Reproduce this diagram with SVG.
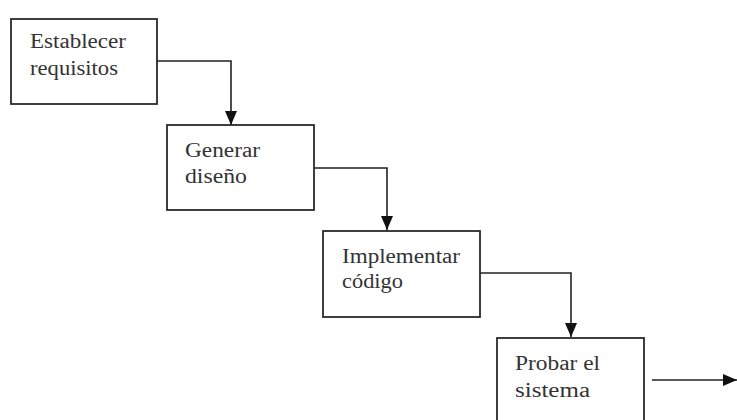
<svg xmlns="http://www.w3.org/2000/svg" width="737" height="420" viewBox="0 0 737 420">
  <style>
    .box { fill: #ffffff; stroke: #2a2a2a; stroke-width: 1.8; }
    .lbl { font-family: 'Liberation Serif', 'Times New Roman', Times, serif; font-size: 20px; fill: #333333; }
    .wire { fill: none; stroke: #222222; stroke-width: 1.6; }
  </style>
  <defs>
    <marker id="arrow" viewBox="0 0 14 12" refX="14" refY="6" markerWidth="14" markerHeight="12" markerUnits="userSpaceOnUse" orient="auto">
      <path d="M0,0 L14,6 L0,12 Z" fill="#111111"/>
    </marker>
  </defs>
  <rect width="737" height="420" fill="#ffffff"/>

  <g id="connectors">
    <path class="wire" d="M157,61 H231 V125" marker-end="url(#arrow)"/>
    <path class="wire" d="M314,168 H387 V230" marker-end="url(#arrow)"/>
    <path class="wire" d="M480,273 H571 V337" marker-end="url(#arrow)"/>
    <path class="wire" d="M652,380 H737" marker-end="url(#arrow)"/>
  </g>

  <g id="establecer">
    <rect class="box" x="11" y="19" width="146" height="85"/>
    <text class="lbl" font-family="Liberation Serif, serif" x="30" y="48" textLength="96" lengthAdjust="spacingAndGlyphs">Establecer</text>
    <text class="lbl" font-family="Liberation Serif, serif" x="30" y="75" textLength="88" lengthAdjust="spacingAndGlyphs">requisitos</text>
  </g>

  <g id="generar">
    <rect class="box" x="167" y="125" width="147" height="85"/>
    <text class="lbl" font-family="Liberation Serif, serif" x="185" y="157" textLength="75" lengthAdjust="spacingAndGlyphs">Generar</text>
    <text class="lbl" font-family="Liberation Serif, serif" x="185" y="183" textLength="62" lengthAdjust="spacingAndGlyphs">diseño</text>
  </g>

  <g id="implementar">
    <rect class="box" x="323" y="231" width="157" height="86"/>
    <text class="lbl" font-family="Liberation Serif, serif" x="342" y="263" textLength="118" lengthAdjust="spacingAndGlyphs">Implementar</text>
    <text class="lbl" font-family="Liberation Serif, serif" x="342" y="288" textLength="61" lengthAdjust="spacingAndGlyphs">código</text>
  </g>

  <g id="probar">
    <rect class="box" x="497" y="338" width="147" height="90"/>
    <text class="lbl" font-family="Liberation Serif, serif" x="515" y="370" textLength="85" lengthAdjust="spacingAndGlyphs">Probar el</text>
    <text class="lbl" font-family="Liberation Serif, serif" x="515" y="397" textLength="75" lengthAdjust="spacingAndGlyphs">sistema</text>
  </g>
</svg>
